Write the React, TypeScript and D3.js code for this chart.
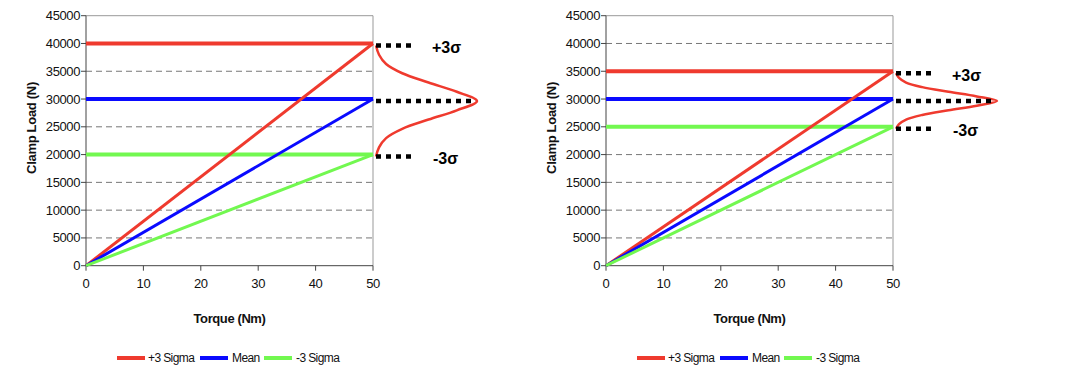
import React from "react";
import * as d3 from "d3";

// chart values
const torqueTicks = [0, 10, 20, 30, 40, 50];
const loadTicks = [0, 5000, 10000, 15000, 20000, 25000, 30000, 35000, 40000, 45000];
const torqueEnds = [0, 50];
const seriesNames = ["+3 Sigma", "Mean", "-3 Sigma"];
const seriesColors = ["#ef3a2e", "#0a0aff", "#72f850"];
const leftLoads = [40000, 30000, 20000];
const rightLoads = [35000, 30000, 25000];
// sideways bell curve: position in sigma, width as share of peak
const bellSigma = [3, 2.5, 2, 1.5, 1, 0.5, 0, -0.5, -1, -1.5, -2, -2.5, -3];
const bellWidth = [0, 0.03, 0.1, 0.26, 0.52, 0.8, 1, 0.8, 0.52, 0.26, 0.1, 0.03, 0];

const W = 1080;
const H = 386;
const font = "'Liberation Sans', Arial, sans-serif";

const Panel = ({ left, loads }: { left: number; loads: number[] }) => {
  const right = left + 287;
  const top = 15.7;
  const bottom = 265.7;
  const x = d3.scaleLinear().domain([0, 50]).range([left, right]);
  const y = d3.scaleLinear().domain([0, 45000]).range([bottom, top]);
  const line = d3
    .line<[number, number]>()
    .x((d) => x(d[0]))
    .y((d) => y(d[1]));

  // bell curve next to the plot
  const sigma = (loads[0] - loads[2]) / 6;
  const base = right + 3;
  const bell = d3
    .line<number>()
    .x((d, i) => base + bellWidth[i] * 101)
    .y((d) => y(loads[1] + d * sigma) + 2)
    .curve(d3.curveCatmullRom);

  const legendX = left + 31;
  const legendItems = [
    { lx: 0, tx: 31 },
    { lx: 83, tx: 115 },
    { lx: 147, tx: 179 },
  ];

  return (
    <g>
      {/* grid */}
      {loadTicks.slice(1, -1).map((t) => (
        <line
          key={t}
          x1={left}
          x2={right}
          y1={y(t)}
          y2={y(t)}
          stroke="#777"
          strokeWidth={1}
          strokeDasharray="6 4"
        />
      ))}
      <line x1={left} x2={right} y1={top} y2={top} stroke="#999" />
      <line x1={right} x2={right} y1={top} y2={bottom} stroke="#999" />
      {/* axes */}
      <line x1={left} x2={left} y1={top} y2={bottom + 0.5} stroke="#444" />
      <line x1={left} x2={right} y1={bottom} y2={bottom} stroke="#444" />
      {loadTicks.map((t) => (
        <g key={t}>
          <line x1={left - 5} x2={left} y1={y(t)} y2={y(t)} stroke="#444" />
          <text
            x={left - 6}
            y={y(t)}
            dy="0.35em"
            textAnchor="end"
            fontSize={13}
            letterSpacing={-0.4}
            fill="#111"
          >
            {t}
          </text>
        </g>
      ))}
      {torqueTicks.map((t) => (
        <g key={t}>
          <line x1={x(t)} x2={x(t)} y1={bottom} y2={bottom + 5} stroke="#444" />
          <text
            x={x(t)}
            y={bottom + 22}
            textAnchor="middle"
            fontSize={13}
            letterSpacing={-0.4}
            fill="#111"
          >
            {t}
          </text>
        </g>
      ))}
      <text
        x={(left + right) / 2}
        y={bottom + 57}
        textAnchor="middle"
        fontSize={13}
        fontWeight="bold"
        letterSpacing={-0.4}
        fill="#111"
      >
        Torque (Nm)
      </text>
      <text
        transform={`translate(${left - 50},${128}) rotate(-90)`}
        textAnchor="middle"
        fontSize={13}
        fontWeight="bold"
        letterSpacing={-0.3}
        fill="#111"
      >
        Clamp Load (N)
      </text>

      {/* series: flat line at the end load, then the ramp from zero */}
      {loads.map((v, i) => (
        <path
          key={"h" + i}
          d={line(torqueEnds.map((t) => [t, v]) as [number, number][]) || ""}
          stroke={seriesColors[i]}
          strokeWidth={4}
          fill="none"
        />
      ))}
      {loads.map((v, i) => (
        <path
          key={"d" + i}
          d={line(torqueEnds.map((t) => [t, (t / 50) * v]) as [number, number][]) || ""}
          stroke={seriesColors[i]}
          strokeWidth={3}
          fill="none"
        />
      ))}

      {/* sigma annotation */}
      <path d={bell(bellSigma) || ""} stroke="#ef3a2e" strokeWidth={2.5} fill="none" />
      {loads.map((v, i) => (
        <line
          key={"dots" + i}
          x1={base}
          x2={i === 1 ? base + 100 : base + 40}
          y1={y(v) + 2}
          y2={y(v) + 2}
          stroke="#000"
          strokeWidth={4.5}
          strokeDasharray="5 5"
        />
      ))}
      <text
        x={base + 56}
        y={y(loads[0]) + 4}
        dy="0.35em"
        fontSize={16}
        fontWeight="bold"
        fill="#000"
      >
        +3σ
      </text>
      <text
        x={base + 57}
        y={y(loads[2]) + 4}
        dy="0.35em"
        fontSize={16}
        fontWeight="bold"
        fill="#000"
      >
        -3σ
      </text>

      {/* legend */}
      {seriesNames.map((name, i) => (
        <g key={name}>
          <line
            x1={legendX + legendItems[i].lx}
            x2={legendX + legendItems[i].lx + 28}
            y1={358}
            y2={358}
            stroke={seriesColors[i]}
            strokeWidth={4}
          />
          <text
            x={legendX + legendItems[i].tx}
            y={358}
            dy="0.35em"
            fontSize={12}
            letterSpacing={-0.6}
            fill="#111"
          >
            {name}
          </text>
        </g>
      ))}
    </g>
  );
};

export default function App() {
  return (
    <div style={{ position: "absolute", left: 0, top: 0 }}>
      <svg width={W} height={H} style={{ display: "block", background: "#fff", fontFamily: font }}>
        <rect width={W} height={H} fill="#fff" />
        <Panel left={86} loads={leftLoads} />
        <Panel left={606} loads={rightLoads} />
      </svg>
    </div>
  );
}
